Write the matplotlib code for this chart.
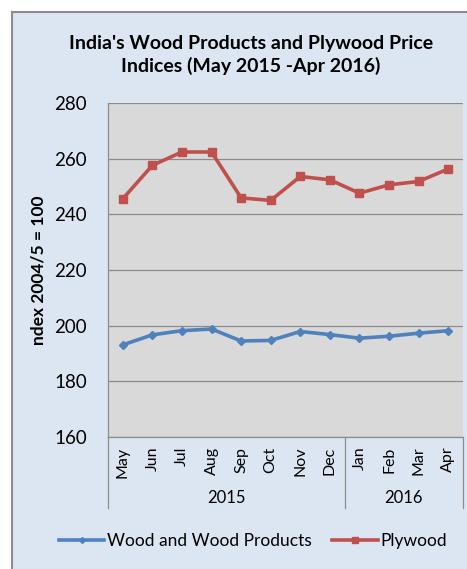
import matplotlib
matplotlib.use("Agg")
import matplotlib.pyplot as plt
from matplotlib.lines import Line2D
from matplotlib.patches import Rectangle
import matplotlib.transforms as mtrans

months = ["May", "Jun", "Jul", "Aug", "Sep", "Oct", "Nov", "Dec", "Jan", "Feb", "Mar", "Apr"]
years = ["2015", "2016"]
year_spans = [(0, 7), (8, 11)]
wood = [193.1, 196.7, 198.2, 198.8, 194.5, 194.7, 197.9, 196.8, 195.5, 196.2, 197.3, 198.2]
plywood = [245.6, 257.6, 262.4, 262.4, 245.9, 245.0, 253.6, 252.4, 247.6, 250.6, 251.8, 256.3]
yticks = [160, 180, 200, 220, 240, 260, 280]

plt.rcParams['font.family'] = ['Lato', 'DejaVu Sans']

W, H = 467, 569
fig = plt.figure(figsize=(W / 100, H / 100), dpi=100)
fig.patch.set_facecolor('white')

# chart area background with border
bg = Rectangle((12 / W, -0.01), 1, 1 - 12 / H + 0.01, transform=fig.transFigure,
               facecolor='#DCE6F2', edgecolor='#8C8C8C', linewidth=1.5, zorder=-10)
fig.add_artist(bg)

ax = fig.add_axes([108 / W, 1 - 437 / H, 355 / W, (437 - 103) / H])
ax.set_facecolor('#D9D9D9')
x = list(range(len(months)))
ax.plot(x, wood, color='#4F81BD', lw=2.6, marker='D', ms=4.5, zorder=3)
ax.plot(x, plywood, color='#C0504D', lw=2.6, marker='s', ms=5.5, zorder=3)

ax.set_ylim(160, 280)
ax.set_xlim(-0.5, 11.5)
ax.set_yticks(yticks)
ax.yaxis.grid(True, color='#8C8C8C', lw=0.9)
ax.set_axisbelow(True)
ax.tick_params(axis='y', length=0, pad=15, labelsize=13.5, colors='black')
ax.set_xticks(x)
ax.set_xticklabels(months, rotation=90, fontsize=11.5)
ax.tick_params(axis='x', length=0, pad=7)
for s in ['top', 'right']:
    ax.spines[s].set_visible(False)
for s in ['left', 'bottom']:
    ax.spines[s].set_color('#8C8C8C')
    ax.spines[s].set_linewidth(0.9)

ax.set_ylabel("ndex 2004/5 = 100", fontsize=12.5, fontweight='bold', labelpad=6)

trans = mtrans.blended_transform_factory(ax.transData, ax.transAxes)
yb = -(508 - 437) / (437 - 103)
for xs in [-0.5, 7.5, 11.5]:
    ax.add_line(Line2D([xs, xs], [0, yb], transform=trans, color='#8C8C8C', lw=0.9, clip_on=False))
for yr, (a, b) in zip(years, year_spans):
    ax.text((a + b) / 2, -(498 - 437) / (437 - 103), yr, transform=trans, ha='center', va='center', fontsize=12)

fig.text(251 / W, 1 - 55 / H, "India's Wood Products and Plywood Price\nIndices (May 2015 -Apr 2016)",
         ha='center', va='center', fontsize=14, fontweight='bold', linespacing=1.3)

handles = [Line2D([], [], color='#4F81BD', lw=2.6, marker='D', ms=3),
           Line2D([], [], color='#C0504D', lw=2.6, marker='s', ms=4.5)]
fig.legend(handles, ["Wood and Wood Products", "Plywood"], loc='center',
           bbox_to_anchor=(253 / W, 1 - 541 / H), ncol=2, frameon=False,
           fontsize=12.5, handlelength=2.6, handletextpad=0.15, columnspacing=1.2)

fig.savefig("out.png", dpi=100)
